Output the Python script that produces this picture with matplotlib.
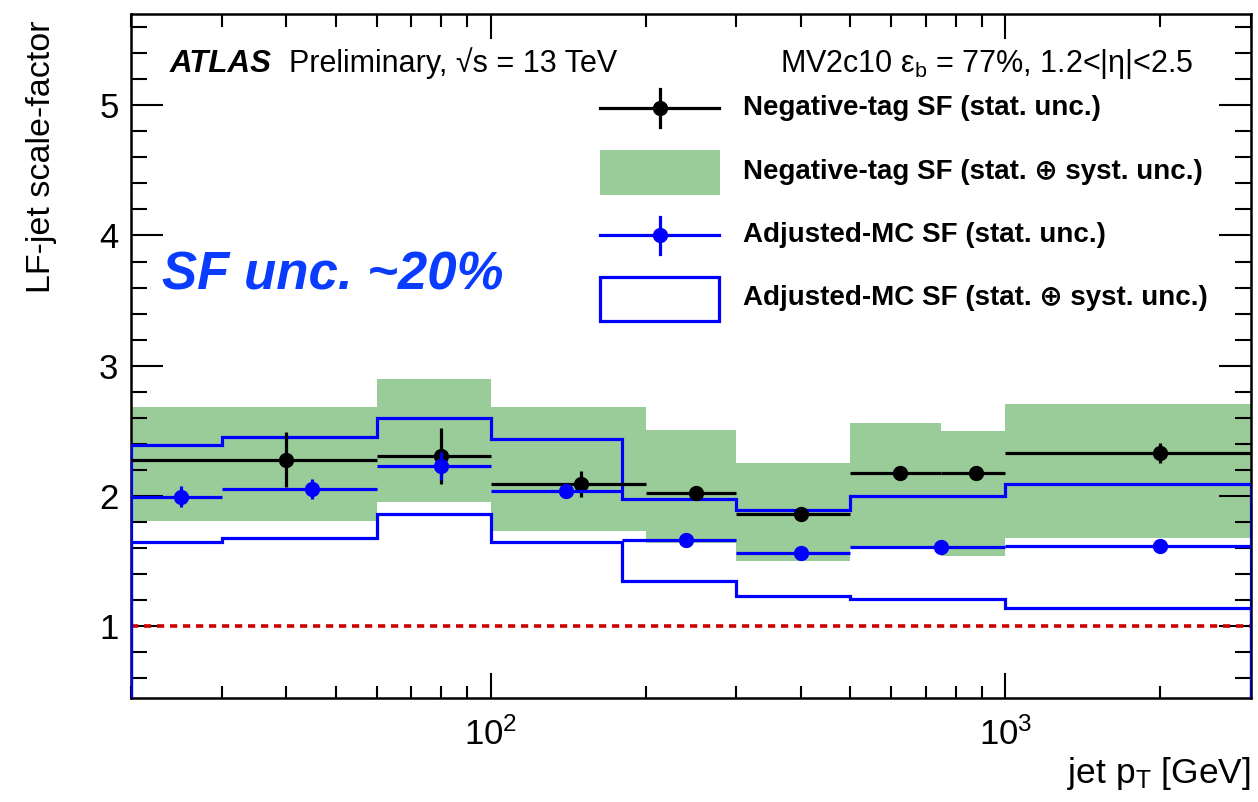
import numpy as np
import matplotlib.pyplot as plt
from matplotlib.lines import Line2D
from matplotlib.patches import Rectangle
from matplotlib.ticker import FixedLocator, NullFormatter, LogLocator

plt.rcParams['font.family'] = ['Liberation Sans', 'DejaVu Sans']
plt.rcParams['mathtext.fontset'] = 'custom'
plt.rcParams['mathtext.rm'] = 'Liberation Sans'
plt.rcParams['mathtext.it'] = 'Liberation Sans:italic'
plt.rcParams['mathtext.bf'] = 'Liberation Sans:bold'

# negative-tag scale factors
nt_edges = [20, 60, 100, 200, 300, 500, 750, 1000, 3000]
nt_pt = [40, 80, 150, 250, 400, 625, 875, 2000]
nt_sf = [2.28, 2.305, 2.095, 2.02, 1.86, 2.175, 2.18, 2.33]
nt_stat = [0.21, 0.215, 0.10, 0.03, 0.03, 0.03, 0.03, 0.08]
nt_tot_lo = [1.81, 1.955, 1.73, 1.64, 1.50, 1.595, 1.54, 1.68]
nt_tot_hi = [2.68, 2.90, 2.68, 2.51, 2.25, 2.56, 2.50, 2.71]

# adjusted-MC scale factors
mc_edges = [20, 30, 60, 100, 180, 300, 500, 1000, 3000]
mc_pt = [25, 45, 80, 140, 240, 400, 750, 2000]
mc_sf = [1.995, 2.055, 2.23, 2.04, 1.66, 1.56, 1.61, 1.615]
mc_stat = [0.08, 0.075, 0.11, 0.02, 0.01, 0.01, 0.01, 0.01]
mc_tot_lo = [1.65, 1.68, 1.86, 1.65, 1.35, 1.235, 1.21, 1.14]
mc_tot_hi = [2.39, 2.455, 2.60, 2.44, 1.98, 1.89, 2.00, 2.09]

legend_labels = ['Negative-tag SF (stat. unc.)',
                 'Negative-tag SF (stat. \u2295 syst. unc.)',
                 'Adjusted-MC SF (stat. unc.)',
                 'Adjusted-MC SF (stat. \u2295 syst. unc.)']

green = '#9acc9a'
blue = '#0000ff'

W, H = 1258, 802
fig = plt.figure(figsize=(W / 100, H / 100), dpi=100)
ax = fig.add_axes([131 / W, (H - 698) / H, (1251 - 131) / W, (698 - 14) / H])


def fx(p):
    return p / W


def fy(p):
    return 1 - p / H


def xerr_from(edges, pts):
    edges = np.asarray(edges, float)
    pts = np.asarray(pts, float)
    return [pts - edges[:-1], edges[1:] - pts]


# total uncertainty band
ax.stairs(nt_tot_hi, nt_edges, baseline=nt_tot_lo, fill=True,
          color=green, lw=0, zorder=1)

ax.axhline(1.0, color='#cc0000', lw=2.6, ls=(0, (2.0, 1.6)), zorder=2)

# adjusted-MC total uncertainty envelope
for vals in (mc_tot_hi, mc_tot_lo):
    ax.stairs(vals, mc_edges, baseline=0, color=blue, lw=2.3, zorder=3)

ax.errorbar(nt_pt, nt_sf, yerr=nt_stat, xerr=xerr_from(nt_edges, nt_pt),
            fmt='o', color='black', ms=10, elinewidth=2.3, capsize=0, zorder=4)
ax.errorbar(mc_pt, mc_sf, yerr=mc_stat, xerr=xerr_from(mc_edges, mc_pt),
            fmt='o', color=blue, ms=10, elinewidth=2.3, capsize=0, zorder=5)

ax.set_xscale('log')
ax.set_xlim(20, 3000)
ax.set_ylim(0.45, 5.7)

ax.xaxis.set_major_locator(FixedLocator([100, 1000]))
ax.xaxis.set_minor_locator(LogLocator(base=10, subs=np.arange(2, 10)))
ax.xaxis.set_minor_formatter(NullFormatter())
ax.set_xticklabels(['$10^{2}$', '$10^{3}$'])
ax.yaxis.set_major_locator(FixedLocator([1, 2, 3, 4, 5]))
ax.yaxis.set_minor_locator(FixedLocator(np.arange(0.6, 5.7, 0.2)))

ax.tick_params(which='both', direction='in', top=True, right=True,
               width=1.5, labelsize=25)
ax.tick_params(axis='y', which='major', length=23, pad=9)
ax.tick_params(axis='y', which='minor', length=11.5)
ax.tick_params(axis='x', which='major', length=18, pad=14)
ax.tick_params(axis='x', which='minor', length=9)
for s in ax.spines.values():
    s.set_linewidth(1.8)

ax.set_ylabel('LF-jet scale-factor', fontsize=24.5, loc='top')
ax.yaxis.set_label_coords(-0.066, 0.99)
ax.set_xlabel('jet p$_{\\mathregular{T}}$ [GeV]', fontsize=25.5, loc='right')
ax.xaxis.set_label_coords(1.0, -0.083)

# header texts
fig.text(fx(170), fy(72), 'ATLAS', fontsize=22.5, fontweight='bold',
         fontstyle='italic', va='baseline')
fig.text(fx(289), fy(72), 'Preliminary, \u221as = 13 TeV', fontsize=22,
         va='baseline')
fig.text(fx(1194), fy(72),
         'MV2c10 \u03b5$_{\\mathregular{b}}$ = 77%, 1.2<|\u03b7|<2.5',
         fontsize=22, va='baseline', ha='right')
fig.text(fx(162), fy(290), 'SF unc. ~20%', fontsize=38, fontweight='bold',
         fontstyle='italic', color='#0a3cff', va='baseline')

# legend
rows = [108, 172, 235, 298]
x0, x1, xm = 600, 719, 660
fig.add_artist(Line2D([fx(x0), fx(x1)], [fy(rows[0])] * 2, color='black', lw=2.3))
fig.add_artist(Line2D([fx(xm)] * 2, [fy(89), fy(127)], color='black', lw=2.3))
fig.add_artist(Line2D([fx(xm)], [fy(rows[0])], marker='o', ms=10, color='black'))
fig.add_artist(Rectangle((fx(x0), fy(195)), fx(120), 45 / H, color=green, lw=0))
fig.add_artist(Line2D([fx(x0), fx(x1)], [fy(rows[2])] * 2, color=blue, lw=2.3))
fig.add_artist(Line2D([fx(xm)] * 2, [fy(217), fy(254)], color=blue, lw=2.3))
fig.add_artist(Line2D([fx(xm)], [fy(rows[2])], marker='o', ms=10, color=blue))
fig.add_artist(Rectangle((fx(x0), fy(321)), fx(119), 44 / H, fill=False,
                         edgecolor=blue, lw=2.3))
for yy, lab in zip(rows, legend_labels):
    fig.text(fx(743), fy(yy), lab, fontsize=20, fontweight='bold',
             va='center')

fig.savefig('out.png', dpi=100)
